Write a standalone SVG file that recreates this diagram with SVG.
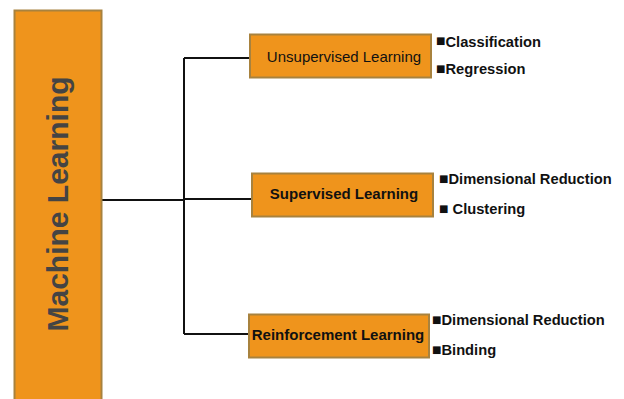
<svg xmlns="http://www.w3.org/2000/svg" width="624" height="399" viewBox="0 0 624 399">
<style>
.box{fill:#EF941C;stroke:#A8823E;stroke-width:2}
.lbl{font-family:"Liberation Sans",Arial,sans-serif;font-size:15px;fill:#111;text-anchor:middle}
.b{font-weight:bold}
.item{font-family:"Liberation Sans","DejaVu Sans",Arial,sans-serif;font-size:14.7px;font-weight:bold;fill:#111}
.bul{font-family:"DejaVu Sans",sans-serif;font-size:10px}
.conn{stroke:#111;stroke-width:2;fill:none}
</style>
<rect width="624" height="399" fill="#fff"/>
<g id="connectors">
<path class="conn" d="M102 200H185M184 58V334M184 58H250M184 199H252M184 334H249"/>
</g>
<g id="machine-learning">
<rect class="box" x="14.5" y="10.5" width="87" height="400"/>
<text x="58" y="204" transform="rotate(-90 58 204)" dy="10" style="font-family:'Liberation Sans',Arial,sans-serif;font-size:30px;font-weight:bold;fill:#444;text-anchor:middle">Machine Learning</text>
</g>
<g id="unsupervised">
<rect class="box" x="250" y="34.5" width="181" height="43"/>
<text class="lbl" x="344" y="62">Unsupervised Learning</text>
</g>
<g id="supervised">
<rect class="box" x="252" y="173.5" width="181" height="43"/>
<text class="lbl b" x="344" y="199">Supervised Learning</text>
</g>
<g id="reinforcement">
<rect class="box" x="249" y="314.5" width="180" height="43"/>
<text class="lbl b" x="338" y="340">Reinforcement Learning</text>
</g>
<g id="classification"><text class="item" x="436" y="47"><tspan class="bul" dy="-3">■</tspan><tspan dy="3">Classification</tspan></text></g>
<g id="regression"><text class="item" x="436" y="74"><tspan class="bul" dy="-2">■</tspan><tspan dy="2">Regression</tspan></text></g>
<g id="dimred1"><text class="item" x="439" y="184"><tspan class="bul" dy="-2">■</tspan><tspan dy="2">Dimensional Reduction</tspan></text></g>
<g id="clustering"><text class="item" x="439" y="214"><tspan class="bul" dy="-2">■</tspan><tspan dy="2"> Clustering</tspan></text></g>
<g id="dimred2"><text class="item" x="432" y="325"><tspan class="bul" dy="-2">■</tspan><tspan dy="2">Dimensional Reduction</tspan></text></g>
<g id="binding"><text class="item" x="432" y="355"><tspan class="bul" dy="-2">■</tspan><tspan dy="2">Binding</tspan></text></g>
</svg>
